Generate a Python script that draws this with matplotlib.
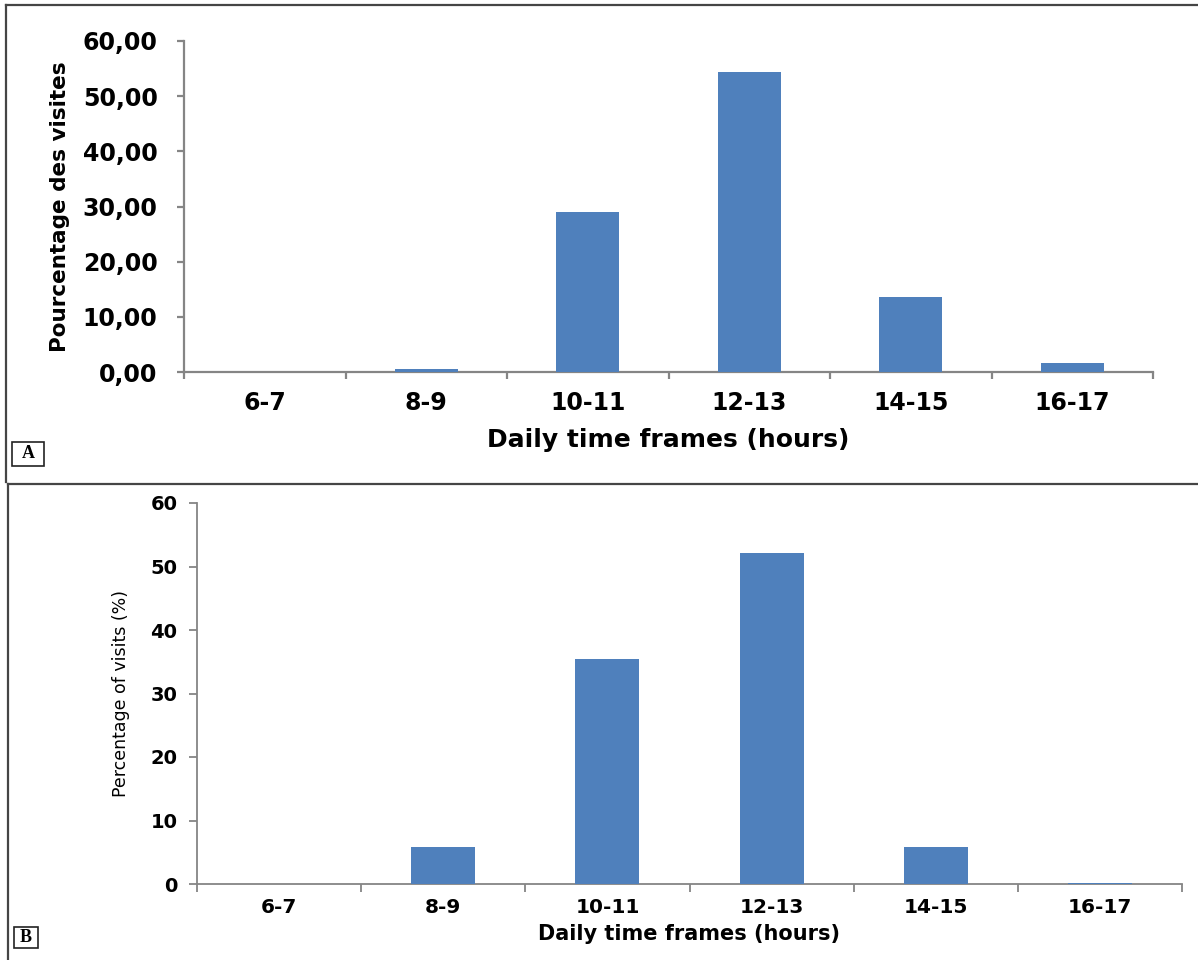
import numpy as np
import matplotlib
matplotlib.use('Agg')
from matplotlib import pyplot as plt
from matplotlib.lines import Line2D
from matplotlib.patches import Rectangle

# data
frames = ['6-7', '8-9', '10-11', '12-13', '14-15', '16-17']
visits_a = [0.0, 0.6, 29.0, 54.4, 13.6, 1.6]
visits_b = [0.0, 5.9, 35.5, 52.1, 5.9, 0.2]
yticks = [0, 10, 20, 30, 40, 50, 60]
yticklabels_a = ['0,00', '10,00', '20,00', '30,00', '40,00', '50,00', '60,00']
yticklabels_b = ['0', '10', '20', '30', '40', '50', '60']

W, H = 1198, 960
fig = plt.figure(figsize=(W / 100, H / 100), dpi=100)
fig.patch.set_facecolor('white')

bar_color = '#4f80bc'
axis_grey = '#858585'


def px_axes(x0, y0, x1, y1):
    # axes from pixel box (top-left origin)
    return fig.add_axes([x0 / W, 1 - y1 / H, (x1 - x0) / W, (y1 - y0) / H])


def style_axes(ax, lw, tick_len):
    for s in ['top', 'right']:
        ax.spines[s].set_visible(False)
    for s in ['left', 'bottom']:
        ax.spines[s].set_color(axis_grey)
        ax.spines[s].set_linewidth(lw)
    ax.set_xlim(-0.5, 5.5)
    ax.set_ylim(0, 60)
    ax.set_xticks(np.arange(-0.5, 6, 1))
    ax.set_xticklabels([])
    ax.set_xticks(np.arange(6), minor=True)
    ax.tick_params(axis='x', which='major', direction='out', length=tick_len,
                   width=lw, color=axis_grey)
    ax.tick_params(axis='x', which='minor', length=0)
    ax.tick_params(axis='y', direction='out', length=tick_len, width=lw,
                   color=axis_grey)
    ax.set_yticks(yticks)


x = np.arange(len(frames))

# panel A
ax1 = px_axes(184, 41, 1153, 372)
ax1.bar(x, visits_a, width=0.39, color=bar_color, zorder=3)
style_axes(ax1, 1.6, 5)
ax1.set_yticklabels(yticklabels_a, fontsize=17, fontweight='bold')
ax1.tick_params(axis='y', pad=14)
ax1.set_xticklabels(frames, minor=True, fontsize=17, fontweight='bold')
ax1.tick_params(axis='x', which='minor', pad=14)
ax1.set_ylabel('Pourcentage des visites', fontsize=15.5, fontweight='bold')
ax1.yaxis.set_label_coords(-0.118, 0.5)
ax1.set_xlabel('Daily time frames (hours)', fontsize=18, fontweight='bold')
ax1.xaxis.set_label_coords(0.5, -0.169)

# panel B
ax2 = px_axes(197, 503, 1182, 884)
ax2.bar(x, visits_b, width=0.39, color=bar_color, zorder=3)
style_axes(ax2, 1.3, 6)
ax2.set_yticklabels(yticklabels_b, fontsize=14, fontweight='bold')
ax2.tick_params(axis='y', pad=8)
ax2.set_xticklabels(frames, minor=True, fontsize=14.5, fontweight='bold')
ax2.tick_params(axis='x', which='minor', pad=10)
ax2.set_ylabel('Percentage of visits (%)', fontsize=12.5)
ax2.yaxis.set_label_coords(-0.068, 0.5)
ax2.set_xlabel('Daily time frames (hours)', fontsize=15, fontweight='bold')
ax2.xaxis.set_label_coords(0.5, -0.105)

# panel frames
frame_kw = dict(color='#454545', linewidth=1.6, transform=fig.transFigure)
for (xa, ya), (xb, yb) in [((6, 5), (W, 5)), ((6, 5), (6, 482)),
                           ((8, 484), (W, 484)), ((8, 484), (8, H))]:
    fig.add_artist(Line2D([xa / W, xb / W], [1 - ya / H, 1 - yb / H], **frame_kw))

# panel letters
for letter, (x0, y0, x1, y1) in [('A', (12, 442, 44, 466)), ('B', (14, 927, 38, 948))]:
    fig.add_artist(Rectangle((x0 / W, 1 - y1 / H), (x1 - x0) / W, (y1 - y0) / H,
                             transform=fig.transFigure, fill=False,
                             edgecolor='#222222', linewidth=1.2))
    fig.text((x0 + x1) / 2 / W, 1 - (y0 + y1) / 2 / H, letter, ha='center',
             va='center', fontsize=13, fontweight='bold',
             family=['Liberation Serif', 'DejaVu Serif'])

fig.savefig('out.png', dpi=100)
